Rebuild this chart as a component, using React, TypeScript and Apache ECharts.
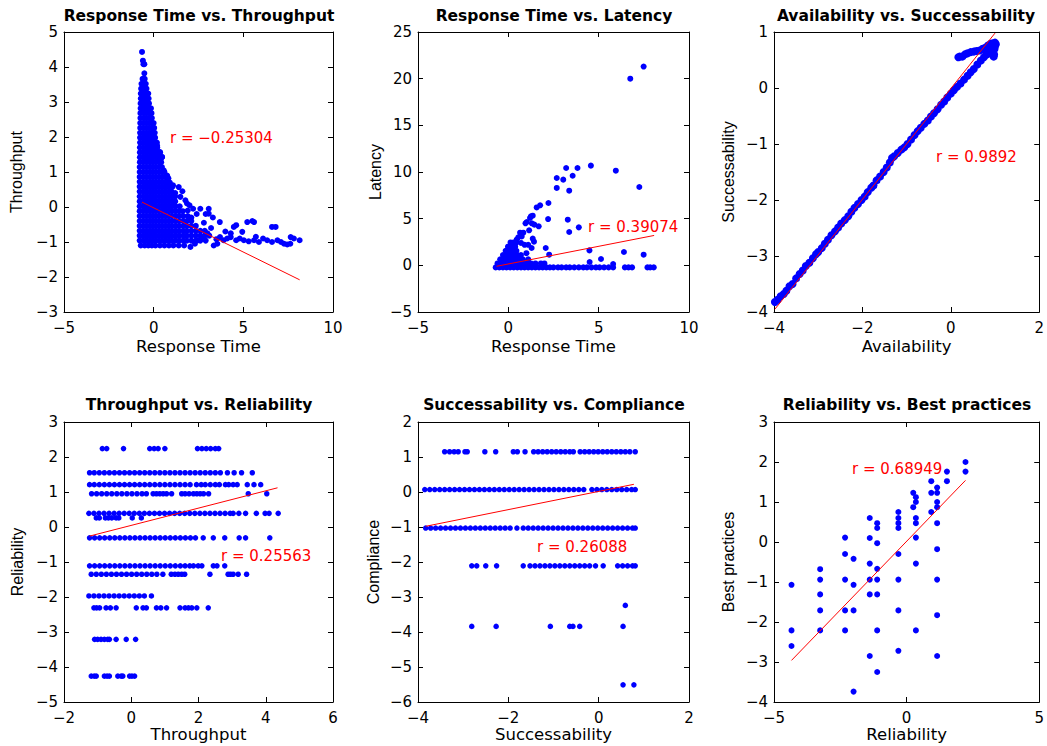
import React, { useEffect, useRef } from "react";
import * as echarts from "echarts";

// ---------- data ----------
const titles = [
  "Response Time vs. Throughput",
  "Response Time vs. Latency",
  "Availability vs. Successability",
  "Throughput vs. Reliability",
  "Successability vs. Compliance",
  "Reliability vs. Best practices",
];
const xNames = ["Response Time", "Response Time", "Availability", "Throughput", "Successability", "Reliability"];
const yNames = ["Throughput", "Latency", "Successability", "Reliability", "Compliance", "Best practices"];
const rTexts = ["r = \u22120.25304", "r = 0.39074", "r = 0.9892", "r = 0.25563", "r = 0.26088", "r = 0.68949"];

// [min, max, interval]
const xRanges: [number, number, number][] = [[-5, 10, 5], [-5, 10, 5], [-4, 2, 2], [-2, 6, 2], [-4, 2, 2], [-5, 5, 5]];
const yRanges: [number, number, number][] = [[-3, 5, 1], [-5, 25, 5], [-4, 1, 1], [-5, 3, 1], [-6, 2, 1], [-4, 3, 1]];

// regression lines: endpoints [x, y]
const fitLines: [number, number][][] = [
  [[-0.65, 0.14], [8.14, -2.08]],
  [[-0.65, -0.1], [8.07, 3.2]],
  [[-3.98, -3.95], [1.0, 0.98]],
  [[-1.24, -0.26], [4.35, 1.12]],
  [[-3.83, -0.98], [0.78, 0.22]],
  [[-4.34, -2.96], [2.22, 1.54]],
];

// 1) Response Time vs Throughput: rows [throughput, response times...]
const rtThrRows: [number, number[]][] = [
  [4.43, [-0.65]],
  [4.18, [-0.6]],
  [4.08, [-0.57, -0.52]],
  [3.82, [-0.52]],
  [3.66, [-0.62, -0.5]],
  [3.52, [-0.68, -0.52, -0.44]],
  [3.38, [-0.7, -0.55, -0.4]],
  [3.24, [-0.72, -0.56, -0.4, -0.3]],
  [3.1, [-0.72, -0.56, -0.4, -0.28]],
  [2.96, [-0.73, -0.56, -0.4, -0.26]],
  [2.82, [-0.73, -0.56, -0.4, -0.24, -0.15]],
  [2.68, [-0.74, -0.56, -0.4, -0.24, -0.12]],
  [2.54, [-0.74, -0.56, -0.4, -0.24, -0.1]],
  [2.4, [-0.75, -0.57, -0.4, -0.24, -0.08, 0.0]],
  [2.26, [-0.75, -0.57, -0.4, -0.24, -0.08, 0.03]],
  [2.12, [-0.76, -0.57, -0.4, -0.24, -0.08, 0.06]],
  [1.98, [-0.76, -0.57, -0.4, -0.24, -0.08, 0.08]],
  [1.84, [-0.76, -0.58, -0.4, -0.24, -0.08, 0.08, 0.18]],
  [1.7, [-0.77, -0.58, -0.4, -0.24, -0.08, 0.08, 0.2]],
  [1.56, [-0.77, -0.58, -0.4, -0.22, -0.05, 0.12, 0.28, 0.36]],
  [1.42, [-0.77, -0.58, -0.4, -0.22, -0.05, 0.12, 0.28, 0.46]],
  [1.28, [-0.77, -0.58, -0.4, -0.22, -0.05, 0.12, 0.3, 0.42]],
  [1.14, [-0.78, -0.58, -0.4, -0.22, -0.05, 0.12, 0.3, 0.46]],
  [1.0, [-0.78, -0.58, -0.4, -0.22, -0.05, 0.12, 0.3, 0.48, 0.6]],
  [0.86, [-0.78, -0.58, -0.4, -0.22, -0.05, 0.12, 0.3, 0.48, 0.66, 0.76]],
  [0.72, [-0.78, -0.58, -0.4, -0.22, -0.05, 0.12, 0.3, 0.48, 0.66, 0.8]],
  [0.58, [-0.78, -0.58, -0.4, -0.22, -0.05, 0.12, 0.3, 0.48, 0.66, 0.84, 1.05]],
  [0.44, [-0.78, -0.58, -0.4, -0.22, -0.05, 0.12, 0.3, 0.48, 0.66, 0.84, 1.0]],
  [0.3, [-0.78, -0.58, -0.4, -0.22, -0.05, 0.12, 0.3, 0.48, 0.66, 0.84, 1.02, 1.2]],
  [0.16, [-0.78, -0.58, -0.4, -0.22, -0.05, 0.12, 0.3, 0.48, 0.66, 0.84, 1.02, 1.2]],
  [0.02, [-0.78, -0.58, -0.4, -0.22, -0.05, 0.12, 0.3, 0.48, 0.66, 0.84, 1.02, 1.22, 1.45]],
  [-0.12, [-0.78, -0.58, -0.4, -0.22, -0.05, 0.12, 0.3, 0.48, 0.66, 0.84, 1.02, 1.22, 1.42, 1.62]],
  [-0.26, [-0.78, -0.58, -0.4, -0.22, -0.05, 0.12, 0.3, 0.48, 0.66, 0.84, 1.02, 1.22, 1.42, 1.65, 1.9]],
  [-0.4, [-0.78, -0.58, -0.4, -0.22, -0.05, 0.12, 0.3, 0.48, 0.66, 0.84, 1.02, 1.22, 1.42, 1.65, 1.85, 2.1]],
  [-0.54, [-0.78, -0.58, -0.4, -0.22, -0.05, 0.12, 0.3, 0.48, 0.66, 0.84, 1.02, 1.22, 1.42, 1.65, 1.85, 2.1, 2.35]],
  [-0.68, [-0.78, -0.58, -0.4, -0.22, -0.05, 0.12, 0.3, 0.48, 0.66, 0.84, 1.02, 1.22, 1.42, 1.65, 1.85, 2.1, 2.35, 2.6, 2.85]],
  [-0.82, [-0.78, -0.58, -0.4, -0.22, -0.05, 0.12, 0.3, 0.48, 0.66, 0.84, 1.02, 1.22, 1.42, 1.65, 1.85, 2.1, 2.35, 2.6, 2.85, 3.1]],
  [-0.96, [-0.78, -0.58, -0.4, -0.22, -0.05, 0.12, 0.3, 0.48, 0.66, 0.84, 1.02, 1.22, 1.42, 1.65, 1.85, 2.1, 2.35, 2.6, 2.9]],
  [-1.1, [-0.72, -0.5, -0.3, -0.1, 0.1, 0.35, 0.6, 0.85, 1.1, 1.4, 1.7]],
];
const rtThrOutliers: [number, number][] = [
  [0.19, 1.76], [0.34, 1.57], [0.47, 1.43], [0.56, 1.05], [0.75, 0.9], [0.82, 0.82], [1.08, 0.62], [1.4, 0.57],
  [1.2, 0.4], [1.49, 0.29], [1.77, 0.19], [1.86, 0.1], [2.2, -0.05], [2.6, -0.05], [3.07, -0.05], [3.07, -0.19],
  [1.15, 0.05], [1.9, -0.1], [3.69, -0.43], [4.47, -0.57], [4.6, -0.52], [5.22, -0.43], [5.5, -0.4], [5.6, -0.43],
  [4.94, -0.71], [6.6, -0.57], [6.8, -0.57], [7.64, -0.86], [7.82, -0.9], [8.14, -0.95], [7.27, -1.05], [7.45, -1.07],
  [7.62, -1.05], [6.33, -0.95], [6.6, -1.0], [5.87, -1.0], [5.6, -0.95], [5.3, -0.98], [5.03, -0.95], [4.8, -0.9],
  [4.6, -0.95], [4.3, -0.86], [4.1, -0.9], [3.9, -0.95], [3.7, -0.86], [3.5, -0.92], [3.35, -1.1], [3.55, -1.05],
  [2.05, -1.14], [2.3, -1.05], [2.5, -0.95], [2.7, -0.85], [3.0, -0.75], [3.2, -0.6], [2.8, -0.45], [3.3, -0.3],
  [4.0, -0.7], [4.3, -0.75], [5.7, -0.85], [6.1, -0.9], [6.9, -0.95], [7.1, -1.0], [2.4, -0.2], [1.6, 0.45],
  [0.9, 0.7], [2.0, 0.05], [2.9, -0.2], [2.1, -0.3],
];

// 2) Response Time vs Latency: rows [latency, response times...]
const rtLatRows: [number, number[]][] = [
  [-0.22, [-0.7, -0.5, -0.3, -0.1, 0.1, 0.3, 0.5, 0.7, 0.9, 1.1, 1.3, 1.5, 1.7, 1.9, 2.1, 2.3, 2.5, 2.75, 2.95, 3.2, 3.4, 3.65, 3.9, 4.15, 4.35, 4.6, 4.85, 5.05, 5.3, 5.55, 5.8, 6.45, 6.65, 6.85, 7.7, 7.85, 8.05]],
  [0.2, [-0.6, -0.4, -0.2, 0.0, 0.2, 0.4, 0.6, 0.8, 1.0, 1.25, 1.5, 1.8, 2.0]],
  [0.65, [-0.45, -0.25, -0.05, 0.15, 0.35, 0.55, 0.8, 1.1]],
  [1.1, [-0.3, -0.1, 0.1, 0.3, 0.5, 0.7]],
  [1.55, [-0.15, 0.05, 0.25, 0.45]],
  [2.0, [-0.02, 0.18, 0.38]],
  [2.45, [0.12, 0.3, 0.45]],
];
const rtLatOutliers: [number, number][] = [
  [6.75, 20.0], [7.49, 21.3], [3.2, 10.43], [3.83, 10.43], [4.57, 10.68], [2.68, 9.36], [3.04, 9.18], [3.56, 9.6],
  [2.68, 8.29], [3.37, 8.0], [5.95, 10.14], [7.25, 8.39], [2.22, 6.68], [1.76, 6.43], [1.57, 6.2], [1.35, 5.32],
  [1.2, 5.07], [1.02, 4.64], [2.2, 4.96], [3.29, 4.89], [1.44, 4.36], [1.68, 4.18], [3.9, 4.07], [3.37, 3.57],
  [0.65, 3.5], [0.83, 3.5], [0.74, 3.1], [1.15, 3.75], [1.35, 2.86], [1.42, 2.54], [0.46, 2.75], [0.33, 2.39],
  [0.9, 2.2], [1.29, 1.86], [2.07, 1.86], [4.49, 1.6], [6.4, 1.43], [7.49, 1.14], [2.26, 1.14], [5.13, 0.68],
  [4.5, 0.36], [5.8, 0.14], [1.0, 1.3], [0.7, 2.4], [1.1, 2.2], [0.55, 3.0], [0.95, 4.5], [1.25, 5.25], [1.3, 4.5],
];

// 3) Availability vs Successability: [availability, successability]
const availSucc: [number, number][] = [
  [-3.98, -3.82], [-3.92, -3.78], [-3.85, -3.72], [-3.78, -3.68], [-3.72, -3.62], [-3.65, -3.54], [-3.58, -3.5],
  [-3.5, -3.4], [-3.42, -3.32], [-3.35, -3.26], [-3.28, -3.18], [-3.2, -3.12], [-3.12, -3.04], [-3.05, -2.97],
  [-3.0, -2.93], [-2.92, -2.86], [-2.85, -2.78], [-2.78, -2.71], [-2.7, -2.63], [-2.62, -2.56], [-2.55, -2.49],
  [-2.48, -2.42], [-2.4, -2.36], [-2.32, -2.29], [-2.25, -2.21], [-2.18, -2.14], [-2.1, -2.07], [-2.02, -2.0],
  [-1.95, -1.94], [-1.88, -1.86], [-1.8, -1.78], [-1.75, -1.74], [-1.68, -1.65], [-1.6, -1.58], [-1.52, -1.5],
  [-1.45, -1.42], [-1.38, -1.33], [-1.33, -1.25], [-1.28, -1.22], [-1.2, -1.16], [-1.12, -1.1], [-1.05, -1.06],
  [-0.98, -1.0], [-0.9, -0.92], [-0.82, -0.84], [-0.75, -0.77], [-0.68, -0.71], [-0.6, -0.64], [-0.52, -0.58],
  [-0.45, -0.51], [-0.38, -0.45], [-0.3, -0.38], [-0.22, -0.3], [-0.15, -0.24], [-0.08, -0.17], [0.0, -0.1],
  [0.07, -0.04], [0.14, 0.02], [0.22, 0.08], [0.3, 0.15], [0.38, 0.22], [0.45, 0.28], [0.52, 0.34], [0.6, 0.42],
  [0.68, 0.49], [0.75, 0.55], [0.82, 0.6], [0.88, 0.66], [0.92, 0.7], [0.95, 0.74],
  [0.17, 0.55], [0.2, 0.56], [0.26, 0.56], [0.32, 0.6], [0.38, 0.62], [0.45, 0.64], [0.52, 0.65], [0.58, 0.66],
  [0.65, 0.67], [0.72, 0.7], [0.78, 0.72], [0.84, 0.76], [0.9, 0.79], [0.95, 0.8], [1.0, 0.81], [1.02, 0.78],
  [0.97, 0.56], [0.98, 0.6], [0.96, 0.65], [0.99, 0.7], [0.94, 0.62], [0.9, 0.68], [0.85, 0.64], [0.8, 0.6], [1.0, 0.75],
];

// 4) Throughput vs Reliability: rows [reliability, throughputs...]
const thrRelRows: [number, number[]][] = [
  [2.24, [-0.86, -0.73, -0.23, 0.55, 0.68, 0.8, 1.0, 1.97, 2.1, 2.23, 2.36, 2.5, 2.6]],
  [1.55, [-1.24, -1.1, -0.95, -0.8, -0.65, -0.5, -0.35, -0.2, -0.05, 0.1, 0.25, 0.4, 0.55, 0.7, 0.85, 1.0, 1.15, 1.3, 1.45, 1.6, 1.75, 1.9, 2.05, 2.2, 2.35, 2.5, 2.65, 2.86, 3.06, 3.28, 3.6]],
  [1.21, [-1.24, -1.1, -0.95, -0.8, -0.65, -0.5, -0.35, -0.2, -0.05, 0.1, 0.25, 0.4, 0.55, 0.7, 0.85, 1.0, 1.15, 1.3, 1.45, 1.6, 1.75, 1.94, 2.08, 2.2, 2.35, 2.5, 2.62, 2.8, 2.9, 3.03, 3.15, 3.45, 3.65, 3.85]],
  [0.95, [-1.18, -1.03, -0.88, -0.73, -0.58, -0.43, -0.28, -0.13, 0.02, 0.17, 0.32, 0.45, 0.65, 0.75, 0.85, 0.95, 1.05, 1.2, 1.5, 1.6, 1.72, 1.85, 1.95, 2.05, 2.15, 2.3, 3.48, 4.03]],
  [0.39, [-1.26, -1.11, -0.96, -0.81, -0.66, -0.51, -0.36, -0.21, -0.06, 0.09, 0.24, 0.39, 0.54, 0.69, 0.84, 0.99, 1.14, 1.29, 1.44, 1.59, 1.74, 1.89, 2.04, 2.19, 2.34, 2.49, 2.64, 2.79, 2.94, 3.03, 3.2, 3.4, 3.72, 3.98, 4.1, 4.37]],
  [0.26, [-1.04, -0.95, -0.77, -0.68, -0.58, -0.45, -0.37, 0.03, 0.3]],
  [-0.31, [-1.24, -1.09, -0.94, -0.79, -0.64, -0.49, -0.34, -0.19, -0.04, 0.11, 0.26, 0.41, 0.56, 0.71, 0.86, 1.01, 1.16, 1.31, 1.46, 1.61, 1.76, 1.91, 2.14, 2.44, 2.78, 3.21, 3.4, 4.12]],
  [-1.11, [-1.24, -1.09, -0.94, -0.79, -0.64, -0.49, -0.34, -0.19, -0.04, 0.11, 0.26, 0.41, 0.56, 0.71, 0.86, 1.01, 1.16, 1.31, 1.46, 1.6, 1.74, 1.85, 1.99, 2.1, 2.44, 2.55, 2.78]],
  [-1.35, [-1.19, -1.04, -0.89, -0.74, -0.59, -0.44, -0.29, -0.14, 0.01, 0.16, 0.31, 0.46, 0.61, 0.76, 0.94, 1.19, 1.3, 1.4, 1.5, 1.59, 2.34, 2.88, 2.95, 3.03, 3.18, 3.43]],
  [-1.97, [-1.26, -1.11, -0.96, -0.81, -0.66, -0.51, -0.36, -0.21, -0.06, 0.09, 0.24, 0.39, 0.6]],
  [-2.31, [-1.11, -1.03, -0.94, -0.75, -0.62, -0.45, 0.15, 0.35, 0.45, 0.75, 0.88, 1.05, 1.45, 1.6, 1.7, 1.8, 1.95, 2.29]],
  [-3.21, [-1.09, -1.0, -0.9, -0.8, -0.7, -0.65, -0.45, -0.15, 0.13]],
  [-4.26, [-1.19, -1.1, -1.04, -0.8, -0.72, -0.65, -0.4, -0.3, -0.25, -0.05, 0.02, 0.1]],
];

// 5) Successability vs Compliance: rows [compliance, successabilities...]
const succCompRows: [number, number[]][] = [
  [1.15, [-3.41, -3.3, -3.2, -3.11, -2.96, -2.91, -2.52, -2.28, -1.89, -1.8, -1.63, -1.44, -1.34, -1.24, -1.14, -1.04, -0.94, -0.84, -0.74, -0.64, -0.56, -0.41, -0.31, -0.21, -0.11, -0.01, 0.09, 0.19, 0.29, 0.39, 0.49, 0.59, 0.69, 0.81]],
  [0.07, [-3.85, -3.74, -3.63, -3.52, -3.41, -3.3, -3.19, -3.08, -2.97, -2.86, -2.75, -2.64, -2.53, -2.42, -2.31, -2.2, -2.09, -1.98, -1.87, -1.76, -1.65, -1.54, -1.43, -1.32, -1.21, -1.1, -0.99, -0.88, -0.77, -0.66, -0.55, -0.44, -0.33, -0.15, -0.04, 0.07, 0.18, 0.29, 0.4, 0.51, 0.62, 0.73, 0.81]],
  [-1.03, [-3.83, -3.72, -3.61, -3.5, -3.39, -3.28, -3.17, -3.06, -2.95, -2.84, -2.73, -2.62, -2.51, -2.4, -2.29, -2.18, -2.07, -1.96, -1.81, -1.67, -1.56, -1.45, -1.34, -1.23, -1.12, -1.01, -0.9, -0.79, -0.68, -0.57, -0.46, -0.35, -0.24, -0.13, -0.02, 0.09, 0.2, 0.31, 0.42, 0.53, 0.64, 0.75, 0.81]],
  [-2.11, [-2.81, -2.7, -2.5, -2.26, -1.67, -1.52, -1.41, -1.3, -1.19, -1.08, -0.97, -0.86, -0.75, -0.64, -0.53, -0.42, -0.31, -0.2, -0.07, 0.1, 0.42, 0.53, 0.64, 0.75, 0.81]],
  [-3.24, [0.59]],
  [-3.84, [-2.81, -2.27, -1.07, -0.64, -0.57, -0.42, 0.54]],
  [-5.51, [0.54, 0.78]],
];

// 6) Reliability vs Best practices: columns [reliability, best-practice values...]
const relBestCols: [number, number[]][] = [
  [-4.34, [-1.07, -2.21, -2.6]],
  [-3.26, [-0.68, -0.94, -1.31, -1.71, -2.21]],
  [-2.32, [0.11, -0.3, -0.94, -1.71, -2.21]],
  [-2.0, [-0.42, -1.07, -1.71, -3.74]],
  [-1.39, [0.6, 0.1, -0.54, -0.94, -1.31, -2.85]],
  [-1.11, [0.47, 0.35, -0.03, -0.67, -0.94, -1.31, -2.21, -3.25]],
  [-0.31, [0.75, 0.6, 0.47, 0.35, -0.3, -0.94, -1.71, -2.72]],
  [0.25, [1.23, 0.87]],
  [0.35, [1.12, 1.0, 0.6, 0.47, 0.11, -0.54, -2.21]],
  [0.93, [1.52, 1.23, 0.75]],
  [1.15, [1.36, 1.23, 1.0, 0.87, 0.47, -0.18, -0.94, -1.83, -2.85]],
  [1.52, [1.76, 1.52]],
  [2.22, [2.0, 1.76]],
];

// ---------- layout / style ----------
const layout = [
  { left: 64, top: 32, width: 269, height: 280 },
  { left: 418, top: 32, width: 271, height: 280 },
  { left: 774, top: 32, width: 270, height: 280 },
  { left: 64, top: 422, width: 269, height: 280 },
  { left: 418, top: 422, width: 271, height: 280 },
  { left: 774, top: 422, width: 270, height: 280 },
];
const yNameGaps = [40, 35, 38, 39, 37, 38];
const xNameGaps = [26, 26, 26, 24, 24, 24];
const titlePos = [[199, 16], [554, 16], [906, 16], [199, 405], [554, 405], [907, 405]];
const rPos = [[170, 138], [588, 227], [936, 157], [221, 556], [537, 547], [852, 469]];
const symbolSizes = [6, 6, 8, 5.5, 5.5, 6];

const FONT = "DejaVu Sans";
const VFONT = "Liberation Sans";
const BLUE = "#0000ff";
const RED = "#ff0000";

const fmt = (v: number) => String(v).replace("-", "\u2212");

const fromRows = (rows: [number, number[]][]) =>
  rows.flatMap(([y, xs]) => xs.map((x) => [x, y] as [number, number]));
const fromCols = (cols: [number, number[]][]) =>
  cols.flatMap(([x, ys]) => ys.map((y) => [x, y] as [number, number]));

const panelPoints: [number, number][][] = [
  [...fromRows(rtThrRows), ...rtThrOutliers],
  [...fromRows(rtLatRows), ...rtLatOutliers],
  availSucc,
  fromRows(thrRelRows),
  fromRows(succCompRows),
  fromCols(relBestCols),
];

function buildOption() {
  const grid: any[] = [];
  const xAxis: any[] = [];
  const yAxis: any[] = [];
  const series: any[] = [];
  const graphic: any[] = [];

  const axisBase = (gridIndex: number, position: string, r: [number, number, number], showLabel: boolean) => ({
    type: "value",
    gridIndex,
    position,
    min: r[0],
    max: r[1],
    interval: r[2],
    axisLine: { show: true, onZero: false, lineStyle: { color: "#000", width: 1 } },
    axisTick: { show: true, inside: true, length: 5, lineStyle: { color: "#000", width: 1 } },
    splitLine: { show: false },
    axisLabel: showLabel
      ? {
          show: true,
          color: "#000",
          fontFamily: FONT,
          fontSize: 15,
          margin: position === "bottom" ? 8 : 6,
          formatter: fmt,
          showMinLabel: true,
          showMaxLabel: true,
        }
      : { show: false },
  });

  layout.forEach((g, i) => {
    grid.push({ ...g, show: false, containLabel: false });
    xAxis.push({
      ...axisBase(i, "bottom", xRanges[i], true),
      name: xNames[i],
      nameLocation: "middle",
      nameGap: xNameGaps[i],
      nameTextStyle: { color: "#000", fontFamily: FONT, fontSize: 16.5 },
    });
    xAxis.push(axisBase(i, "top", xRanges[i], false));
    yAxis.push({
      ...axisBase(i, "left", yRanges[i], true),
      name: yNames[i],
      nameLocation: "middle",
      nameRotate: 90,
      nameGap: yNameGaps[i],
      nameTextStyle: { color: "#000", fontFamily: VFONT, fontSize: 16 },
    });
    yAxis.push(axisBase(i, "right", yRanges[i], false));

    series.push({
      type: "scatter",
      xAxisIndex: 2 * i,
      yAxisIndex: 2 * i,
      data: panelPoints[i],
      symbol: "circle",
      symbolSize: symbolSizes[i],
      itemStyle: { color: BLUE, opacity: 1 },
      z: 2,
    });
    series.push({
      type: "line",
      xAxisIndex: 2 * i,
      yAxisIndex: 2 * i,
      data: fitLines[i],
      symbol: "none",
      lineStyle: { color: RED, width: 1 },
      z: 3,
    });

    graphic.push({
      type: "text",
      x: titlePos[i][0],
      y: titlePos[i][1],
      style: {
        text: titles[i],
        fill: "#000",
        fontFamily: FONT,
        fontSize: 15.5,
        fontWeight: "bold",
        align: "center",
        verticalAlign: "middle",
        textAlign: "center",
        textVerticalAlign: "middle",
      },
    });
    graphic.push({
      type: "text",
      x: rPos[i][0],
      y: rPos[i][1],
      z: 100,
      style: {
        text: rTexts[i],
        fill: RED,
        fontFamily: FONT,
        fontSize: 15,
        align: "left",
        verticalAlign: "middle",
        textAlign: "left",
        textVerticalAlign: "middle",
      },
    });
  });

  return {
    animation: false,
    backgroundColor: "#ffffff",
    grid,
    xAxis,
    yAxis,
    series,
    graphic,
  };
}

export default function App() {
  const ref = useRef<HTMLDivElement>(null);
  useEffect(() => {
    if (!ref.current) return;
    const chart = echarts.init(ref.current, undefined, { renderer: "svg" });
    chart.setOption(buildOption() as any);
    return () => chart.dispose();
  }, []);
  return (
    <div
      ref={ref}
      style={{ position: "absolute", left: 0, top: 0, width: 1047, height: 746, background: "#fff" }}
    />
  );
}
